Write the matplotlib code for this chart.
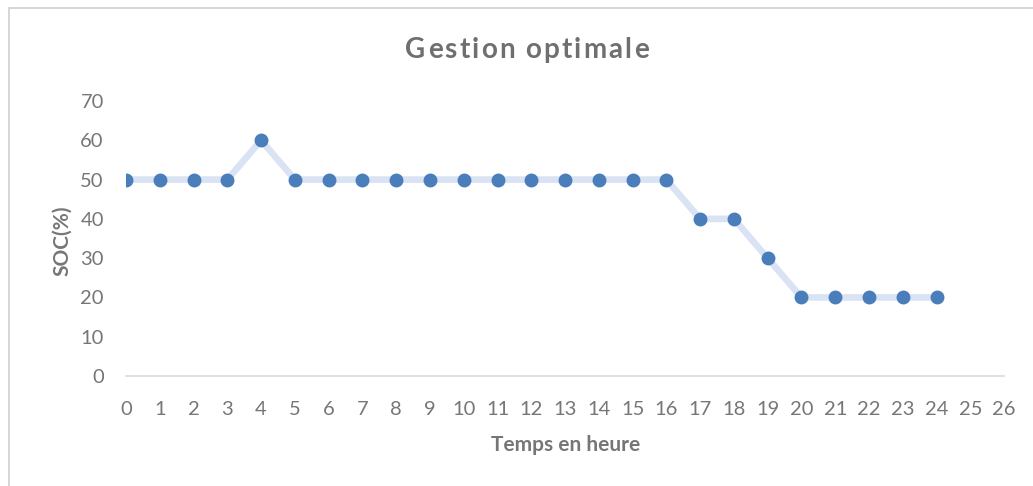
import matplotlib.pyplot as plt
from matplotlib.patches import Rectangle

hours = list(range(25))
soc = [50, 50, 50, 50, 60, 50, 50, 50, 50, 50, 50, 50, 50,
       50, 50, 50, 50, 40, 40, 30, 20, 20, 20, 20, 20]
x_ticks = list(range(27))
y_ticks = [0, 10, 20, 30, 40, 50, 60, 70]
title = "Gestion optimale"

plt.rcParams["font.family"] = ["Lato", "DejaVu Sans"]
gray = "#767676"

fig = plt.figure(figsize=(10.33, 4.86), dpi=100)
fig.patch.set_facecolor("white")
fig.patches.append(Rectangle((0.009, -0.01), 0.995, 0.994, transform=fig.transFigure,
                             fill=False, edgecolor="#d0d0d0", linewidth=1.2))

ax = fig.add_axes([0.122, 0.2263, 0.850, 0.5658])
ax.patch.set_alpha(0)
ax.plot(hours, soc, color="#dae3f3", linewidth=4.8, zorder=2)
ax.plot(hours, soc, linestyle="none", marker="o", markersize=9,
        color="#4a7ebb", zorder=3)

ax.set_xlim(0, 26)
ax.set_ylim(0, 70)
ax.set_xticks(x_ticks)
ax.set_yticks(y_ticks)
ax.tick_params(length=0, labelsize=14.5, labelcolor=gray)
ax.tick_params(axis="x", pad=18)
ax.tick_params(axis="y", pad=16)
for s in ["top", "right", "left"]:
    ax.spines[s].set_visible(False)
ax.spines["bottom"].set_color("#d9d9d9")
ax.spines["bottom"].set_linewidth(1.2)
ax.spines["bottom"].set_zorder(1)

# title with a bit of letter spacing, drawn char by char
fig.canvas.draw()
renderer = fig.canvas.get_renderer()
spacing = 2.2
parts = []
for ch in title:
    t = fig.text(0, 0, ch, fontsize=20, fontweight="bold", color="#6f6f6f",
                 va="center", ha="left")
    w = t.get_window_extent(renderer).width
    if ch == " ":
        w = 6.0
    parts.append((t, w))
total = sum(w for _, w in parts) + spacing * (len(parts) - 1)
x = 527 - total / 2
for t, w in parts:
    t.set_position((x / 1033, 1 - 50 / 486))
    x += w + spacing

fig.text(0.548, 0.084, "Temps en heure", ha="center", va="center",
         fontsize=15, fontweight="bold", color=gray)
fig.text(0.060, 0.505, "SOC(%)", ha="center", va="center", rotation=90,
         fontsize=15, fontweight="bold", color=gray)

fig.savefig("out.png", dpi=100)
